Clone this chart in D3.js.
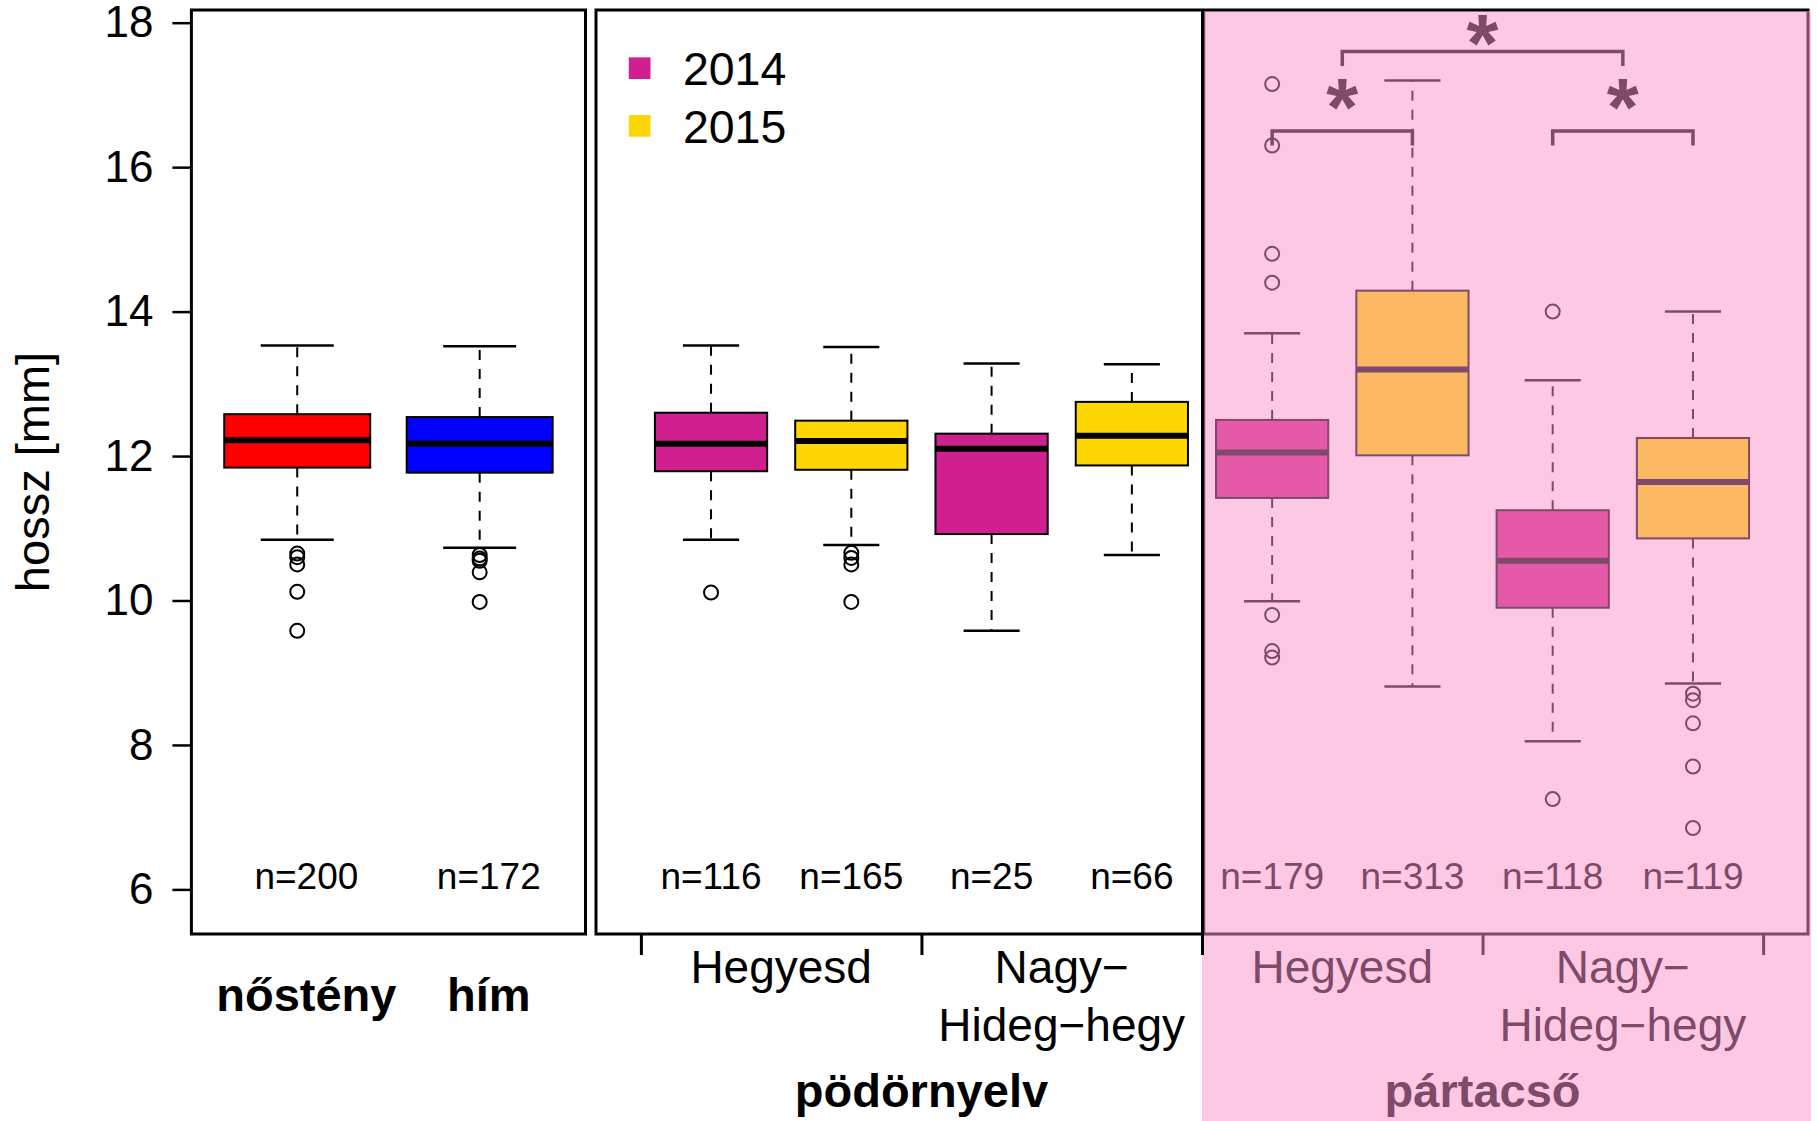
<!DOCTYPE html>
<html>
<head>
<meta charset="utf-8">
<script src="https://cdn.jsdelivr.net/npm/d3@7"></script>
<style>
body{margin:0;background:#fff;}
text{font-family:"Liberation Sans",Arial,Helvetica,sans-serif;}
</style>
</head>
<body>
<div class="box"></div>
<script>
// panel 1 : nőstény / hím
const sexLabels=['nőstény','hím'];
const sexN=[200,172];
const sexLow=[10.84,10.73];
const sexQ1=[11.84,11.77];
const sexMed=[12.22,12.17];
const sexQ3=[12.58,12.54];
const sexHigh=[13.53,13.52];
const sexOut=[[10.65,10.6,10.5,10.12,9.58],[10.63,10.58,10.55,10.39,9.98]];
const sexColors=['#FF0000','#0000FF'];

// panels 2-3 : species x site x year
const years=['2014','2015'];
const sites=[['Hegyesd'],['Nagy−','Hideg−hegy']];
const species=['pödörnyelv','pártacső'];
const boxN=[116,165,25,66,179,313,118,119];
const boxLow=[10.84,10.77,9.58,10.63,9.99,8.81,8.05,8.85];
const boxQ1=[11.79,11.81,10.92,11.87,11.42,12.01,9.90,10.86];
const boxMed=[12.17,12.21,12.10,12.28,12.05,13.20,10.55,11.64];
const boxQ3=[12.60,12.49,12.31,12.75,12.50,14.29,11.25,12.25];
const boxHigh=[13.53,13.51,13.28,13.27,13.70,17.20,13.05,14.00];
const boxOut=[[10.11],[10.66,10.59,10.50,9.98],[],[],[17.15,16.30,14.80,14.40,9.80,9.30,9.21],[],[14.0,7.25],[8.71,8.62,8.30,7.70,6.85]];
const yearColors=['#D02090','#FFD700'];
const yearColorsPart=['#E55AA8','#FDB863'];

// significance brackets (box positions), bracket heights, star heights
const sigPairs=[[5,6],[7,8],[5.5,7.5]];
const sigY=[16.5,16.5,17.6];
const starY=[17.02,17.02,17.91];
const yTicks=[6,8,10,12,14,16,18];

const mauve='#7F4A69';
const pinkBg='#FDC8E3';

const W=1817,H=1121;
const svg=d3.select('.box').append('svg').attr('width',W).attr('height',H).style('background','white');

const y=d3.scaleLinear().domain([6,18]).range([889.4,22.7]);
const x1=d3.scaleLinear().domain([0.42,2.58]).range([191.4,585.5]);
const x2=d3.scaleLinear().domain([0.18,8.82]).range([596,1808]);
const plotTop=10,plotBottom=934;

// pink background of pártacső
svg.append('rect').attr('x',x2(4.5)).attr('y',11.5).attr('width',W-6-x2(4.5)).attr('height',H-11.5).attr('fill',pinkBg);

// frames
svg.append('rect').attr('x',x1.range()[0]).attr('y',plotTop).attr('width',x1.range()[1]-x1.range()[0]).attr('height',plotBottom-plotTop)
   .attr('fill','none').attr('stroke','black').attr('stroke-width',3);
svg.append('path').attr('d',`M${x2(4.5)},${plotTop}H${x2.range()[0]}V${plotBottom}H${x2(4.5)}`).attr('fill','none').attr('stroke','black').attr('stroke-width',3);
svg.append('line').attr('x1',x2(4.5)).attr('x2',x2.range()[1]+1.5).attr('y1',plotTop).attr('y2',plotTop).attr('stroke','black').attr('stroke-width',3);
svg.append('path').attr('d',`M${x2(4.5)+2},${plotBottom}H${x2.range()[1]}V${plotTop+1.5}`).attr('fill','none').attr('stroke',mauve).attr('stroke-width',3);
svg.append('line').attr('x1',x2(4.5)+2.5).attr('x2',x2(4.5)+2.5).attr('y1',plotTop+1.5).attr('y2',plotBottom).attr('stroke',mauve).attr('stroke-width',1.5);

// y axis
const gY=svg.append('g').attr('transform',`translate(${x1.range()[0]},0)`);
gY.call(d3.axisLeft(y).tickValues(yTicks).tickSize(19).tickPadding(19));
gY.select('.domain').remove();
gY.selectAll('line').attr('stroke','black').attr('stroke-width',2.5);
gY.selectAll('text').attr('font-size',44).attr('fill','black').style('font-family','"Liberation Sans",Arial,sans-serif');

svg.append('text').attr('transform',`translate(49,${(plotTop+plotBottom)/2}) rotate(-90)`).attr('text-anchor','middle')
   .attr('font-size',47).text('hossz [mm]');

// x ticks panels 2-3
const gX=svg.append('g').attr('transform',`translate(0,${plotBottom})`);
gX.call(d3.axisBottom(x2).tickValues([0.5,2.5,4.5,6.5,8.5]).tickSize(21).tickFormat(''));
gX.select('.domain').remove();
gX.selectAll('line').attr('stroke-width',3).attr('stroke',d => d>5 ? mauve : 'black');
gX.selectAll('.tick').filter(d => d===4.5).select('line').attr('y1',-(plotBottom-plotTop));

// box drawing
const drawBox=(x,pos,lo,q1,med,q3,hi,out,fill,ink,halfW)=>{
    const g=svg.append('g');
    const cx=x(pos);
    g.append('line').attr('x1',cx).attr('x2',cx).attr('y1',y(q3)).attr('y2',y(hi))
      .attr('stroke',ink).attr('stroke-width',2).attr('stroke-dasharray','10,9');
    g.append('line').attr('x1',cx).attr('x2',cx).attr('y1',y(q1)).attr('y2',y(lo))
      .attr('stroke',ink).attr('stroke-width',2).attr('stroke-dasharray','10,9');
    const capW=(x(pos+halfW)-cx)/2;
    [lo,hi].forEach(v=>{
        g.append('line').attr('x1',cx-capW).attr('x2',cx+capW).attr('y1',y(v)).attr('y2',y(v))
          .attr('stroke',ink).attr('stroke-width',2.5);
    });
    g.append('rect').attr('x',x(pos-halfW)).attr('width',x(pos+halfW)-x(pos-halfW))
      .attr('y',y(q3)).attr('height',y(q1)-y(q3)).attr('fill',fill).attr('stroke',ink).attr('stroke-width',2);
    g.append('line').attr('x1',x(pos-halfW)).attr('x2',x(pos+halfW)).attr('y1',y(med)).attr('y2',y(med))
      .attr('stroke',ink).attr('stroke-width',6);
    g.selectAll('circle').data(out).enter().append('circle')
      .attr('cx',cx).attr('cy',d=>y(d)).attr('r',7).attr('fill','none').attr('stroke',ink).attr('stroke-width',2);
};

sexLabels.forEach((lab,i)=>{
    drawBox(x1,i+1,sexLow[i],sexQ1[i],sexMed[i],sexQ3[i],sexHigh[i],sexOut[i],sexColors[i],'black',0.4);
    svg.append('text').attr('x',x1(i+1.05)).attr('y',888.6).attr('text-anchor','middle').attr('font-size',37).text('n='+sexN[i]);
    svg.append('text').attr('x',x1(i+1.05)).attr('y',1010.5).attr('text-anchor','middle').attr('font-size',47)
       .attr('font-weight','bold').text(lab);
});

boxN.forEach((n,i)=>{
    const part=i>=4;
    const fill=part ? yearColorsPart[i%2] : yearColors[i%2];
    const ink=part ? mauve : 'black';
    drawBox(x2,i+1,boxLow[i],boxQ1[i],boxMed[i],boxQ3[i],boxHigh[i],boxOut[i],fill,ink,0.4);
    svg.append('text').attr('x',x2(i+1)).attr('y',888.6).attr('text-anchor','middle').attr('font-size',37)
       .attr('fill',ink).text('n='+n);
});

// site and species labels
species.forEach((sp,s)=>{
    const ink=s===1 ? mauve : 'black';
    sites.forEach((lines,k)=>{
        const pos=s*4+k*2+1.5;
        lines.forEach((ln,j)=>{
            svg.append('text').attr('x',x2(pos)).attr('y',982.7+j*57.8).attr('text-anchor','middle')
               .attr('font-size',46).attr('fill',ink).text(ln);
        });
    });
    svg.append('text').attr('x',x2(s*4+2.5)).attr('y',1107).attr('text-anchor','middle').attr('font-size',47)
       .attr('font-weight','bold').attr('fill',ink).text(sp);
});

// legend
years.forEach((yr,i)=>{
    const cy=68.2+i*57.7;
    svg.append('rect').attr('x',628.8).attr('y',cy-10.85).attr('width',21.7).attr('height',21.7).attr('fill',yearColors[i]);
    svg.append('text').attr('x',682.9).attr('y',cy).attr('dy','0.36em').attr('font-size',46.5).text(yr);
});

// significance brackets
sigPairs.forEach((p,i)=>{
    const yy=y(sigY[i]), yl=y(sigY[i]-0.2);
    svg.append('path').attr('d',`M${x2(p[0])},${yl}V${yy}H${x2(p[1])}V${yl}`)
       .attr('fill','none').attr('stroke',mauve).attr('stroke-width',3.5);
    svg.append('text').attr('x',x2((p[0]+p[1])/2)).attr('y',y(starY[i])).attr('dy','0.51em').attr('text-anchor','middle')
       .attr('font-size',82).attr('font-weight','bold').attr('fill',mauve).text('*');
});
</script>
</body>
</html>
